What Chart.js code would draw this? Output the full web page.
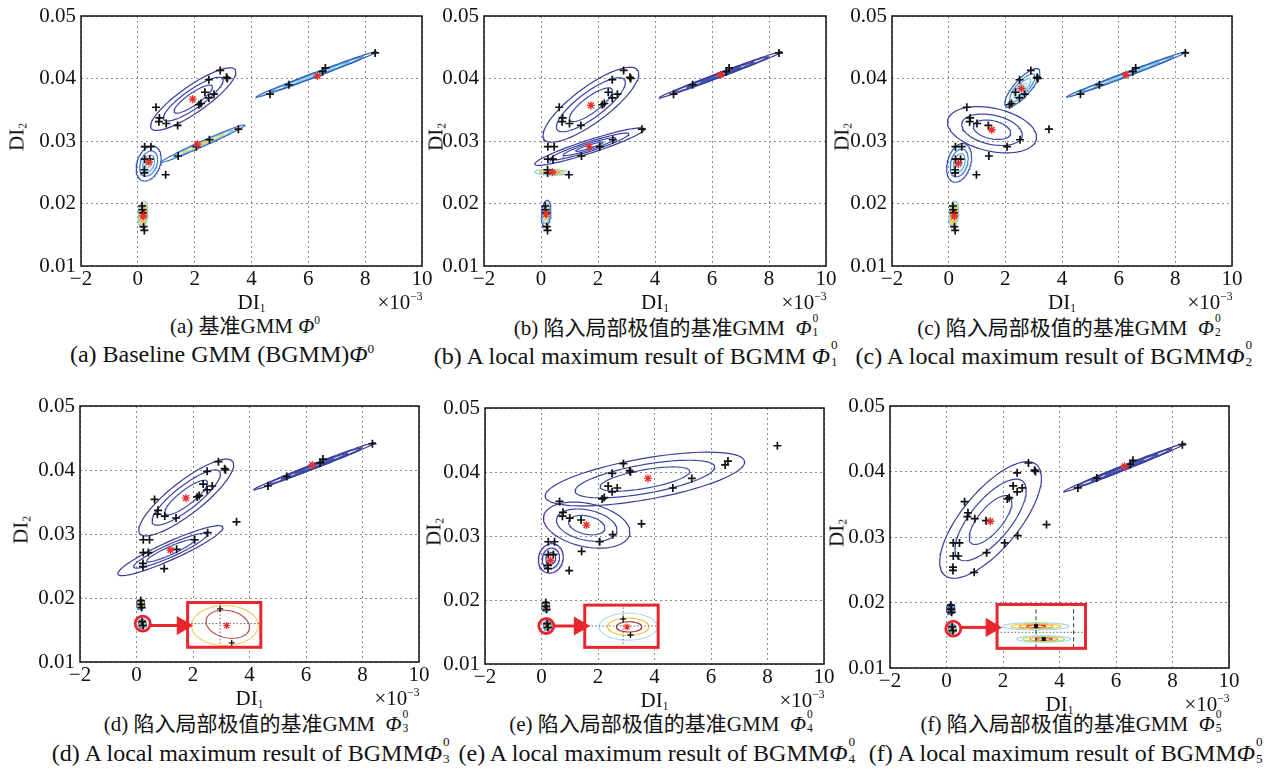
<!DOCTYPE html>
<html>
<head>
<meta charset="utf-8">
<script src="https://cdn.jsdelivr.net/npm/chart.js@4.4.1/dist/chart.umd.min.js"></script>
<style>
body { margin: 0; background: #fff; }
#wrap { position: relative; width: 1276px; height: 780px; overflow: hidden;
  font-family: "Liberation Serif", "Noto Sans CJK SC", serif; color: #111; }
canvas { position: absolute; }
.t { position: absolute; white-space: nowrap; line-height: 1; transform: translate(-50%, -50%); }
.yl { transform: translate(-50%, -50%) rotate(-90deg); }
.cn { font-size: 21px; }
.en { font-size: 24px; }
.ax { font-size: 21px; }
.ax sub { font-size: 0.55em; vertical-align: -0.3em; }
.ax sup, .sp { font-size: 0.55em; vertical-align: 0.7em; }
.ss { display: inline-block; position: relative; width: 0.42em; height: 1em; vertical-align: baseline; }
.ss .p { position: absolute; left: 1px; top: -0.12em; font-size: 0.55em; line-height: 1; }
.ss .b { position: absolute; left: 1px; bottom: -0.32em; font-size: 0.55em; line-height: 1; }
</style>
</head>
<body>
<div id="wrap">
  <div class="t cn" style="left:245px;top:326px">(a) 基准GMM <i>Φ</i><span class="sp">0</span></div>
  <div class="t en" style="left:222px;top:354px">(a) Baseline GMM (BGMM)<i>Φ</i><span class="sp">0</span></div>
  <div class="t cn" style="left:667px;top:326px">(b) 陷入局部极值的基准GMM &nbsp;<i>Φ</i><span class="ss"><span class="p">0</span><span class="b">1</span></span></div>
  <div class="t en" style="left:637px;top:354px">(b) A local maximum result of BGMM <i>Φ</i><span class="ss"><span class="p">0</span><span class="b">1</span></span></div>
  <div class="t cn" style="left:1070px;top:326px">(c) 陷入局部极值的基准GMM &nbsp;<i>Φ</i><span class="ss"><span class="p">0</span><span class="b">2</span></span></div>
  <div class="t en" style="left:1055px;top:354px">(c) A local maximum result of BGMM<i>Φ</i><span class="ss"><span class="p">0</span><span class="b">2</span></span></div>
  <div class="t cn" style="left:257px;top:722px">(d) 陷入局部极值的基准GMM &nbsp;<i>Φ</i><span class="ss"><span class="p">0</span><span class="b">3</span></span></div>
  <div class="t en" style="left:252px;top:751px">(d) A local maximum result of BGMM<i>Φ</i><span class="ss"><span class="p">0</span><span class="b">3</span></span></div>
  <div class="t cn" style="left:662px;top:722px">(e) 陷入局部极值的基准GMM &nbsp;<i>Φ</i><span class="ss"><span class="p">0</span><span class="b">4</span></span></div>
  <div class="t en" style="left:658px;top:751px">(e) A local maximum result of BGMM<i>Φ</i><span class="ss"><span class="p">0</span><span class="b">4</span></span></div>
  <div class="t cn" style="left:1072px;top:722px">(f) 陷入局部极值的基准GMM &nbsp;<i>Φ</i><span class="ss"><span class="p">0</span><span class="b">5</span></span></div>
  <div class="t en" style="left:1067px;top:751px">(f) A local maximum result of BGMM<i>Φ</i><span class="ss"><span class="p">0</span><span class="b">5</span></span></div>
</div>
<script>
// axes
var xTicks = [-2, 0, 2, 4, 6, 8, 10];
var yTicks = [0.01, 0.02, 0.03, 0.04, 0.05];

// sample points (DI1 in 1e-3, DI2)
var sampleDI1 = [0.64, 0.76, 0.74, 1.0, 1.4, 2.15, 2.22, 2.36, 2.5, 2.68, 2.5, 2.9, 3.12, 3.15,
  0.24, 0.46, 0.24, 0.42, 0.23, 0.23, 0.98, 1.42, 2.06, 2.52, 3.54,
  4.65, 5.32, 6.5, 6.6, 8.35,
  0.15, 0.16, 0.18, 0.20, 0.23];
var sampleDI2 = [0.0354, 0.0337, 0.0331, 0.0328, 0.0325, 0.0358, 0.0360, 0.0378, 0.0369, 0.0375, 0.0398, 0.0413, 0.0402, 0.0400,
  0.0291, 0.0291, 0.0271, 0.0271, 0.0254, 0.0249, 0.0246, 0.0276, 0.0291, 0.0302, 0.0319,
  0.0375, 0.0390, 0.0411, 0.0417, 0.0441,
  0.0196, 0.0190, 0.0185, 0.0163, 0.0157];

// estimated component means
var meansA = [[1.93, 0.0367], [6.32, 0.0404], [2.1, 0.0295], [0.39, 0.0266], [0.2, 0.0180]];
var meansB = [[1.75, 0.0357], [1.69, 0.0291], [6.3, 0.0406], [0.4, 0.0250], [0.18, 0.0183]];
var meansC = [[2.57, 0.0384], [1.52, 0.0318], [0.34, 0.0264], [6.25, 0.0406], [0.2, 0.0180]];
var meansD = [[1.75, 0.0356], [1.2, 0.0275], [6.22, 0.0408]];
var meansE = [[3.77, 0.0390], [1.59, 0.0317], [0.32, 0.0262]];
var meansF = [[1.55, 0.0324], [6.3, 0.0408]];

// components: [mean x, mean y, outer half-width x, outer half-width y, correlation]
var compsA = [[1.95, 0.0367, 1.5, 0.0050, 0.86], [6.28, 0.04065, 2.12, 0.00365, 0.994], [2.3, 0.0296, 1.47, 0.0030, 0.987], [0.38, 0.0264, 0.44, 0.0028, 0.3], [0.18, 0.0183, 0.17, 0.0021, 0.2]];
var compsB = [[1.75, 0.0358, 1.68, 0.0060, 0.82], [1.7, 0.0291, 1.92, 0.0030, 0.93], [6.3, 0.0406, 2.15, 0.0037, 0.994], [0.38, 0.0250, 0.6, 0.00045, -0.2], [0.18, 0.0184, 0.17, 0.0021, 0.2]];
var compsC = [[2.6, 0.0385, 0.62, 0.0031, 0.8], [1.53, 0.0318, 1.57, 0.0037, -0.32], [0.37, 0.0265, 0.44, 0.0031, 0.3], [6.28, 0.04065, 2.12, 0.00365, 0.994], [0.18, 0.0183, 0.17, 0.0021, 0.2]];
var compsD = [[1.76, 0.0357, 1.68, 0.0060, 0.85], [1.2, 0.0274, 1.86, 0.0039, 0.92], [6.3, 0.0406, 2.15, 0.0037, 0.994], [0.15, 0.0190, 0.15, 0.0008, 0], [0.2, 0.0160, 0.14, 0.0007, 0]];
var compsE = [[3.66, 0.0389, 3.53, 0.0042, 0.63], [1.6, 0.0317, 1.53, 0.0036, -0.3], [0.33, 0.0265, 0.44, 0.0023, 0.1], [0.15, 0.0190, 0.15, 0.0008, 0], [0.2, 0.0160, 0.14, 0.0007, 0]];
var compsF = [[1.56, 0.0326, 1.8, 0.0089, 0.72], [6.3, 0.0406, 2.15, 0.0037, 0.994], [0.15, 0.0190, 0.15, 0.0008, 0], [0.2, 0.0160, 0.14, 0.0007, 0]];

// contour levels (fraction of outer contour) for each component
var levelsA = [[1, 0.7, 0.45], [1, 0.78, 0.55, 0.32], [1, 0.72, 0.48, 0.25], [1, 0.72, 0.48, 0.25], [1, 0.78, 0.56, 0.36, 0.18]];
var levelsB = [[1, 0.72, 0.45], [1, 0.72, 0.48, 0.25], [1, 0.78, 0.55, 0.32], [1, 0.72, 0.48, 0.25], [1, 0.75, 0.5, 0.3]];
var levelsC = [[1, 0.72, 0.48, 0.25], [1, 0.68, 0.42], [1, 0.72, 0.48, 0.25], [1, 0.78, 0.55, 0.32], [1, 0.78, 0.56, 0.36, 0.18]];
var levelsD = [[1, 0.72, 0.45], [1, 0.7, 0.45], [1, 0.78, 0.55, 0.32], [1, 0.65, 0.35], [1, 0.65, 0.35]];
var levelsE = [[1, 0.7, 0.45], [1, 0.7, 0.42], [1, 0.7, 0.4], [1, 0.65, 0.35], [1, 0.65, 0.35]];
var levelsF = [[1, 0.7, 0.42], [1, 0.78, 0.55, 0.32], [1, 0.6, 0.3], [1, 0.65, 0.35]];

// zoomed insets: [x0, x1, y0, y1] and their contents
var insetD = [1.81, 4.40, 0.0123, 0.0193];
var insetE = [1.53, 4.13, 0.0126, 0.0192];
var insetF = [1.79, 4.92, 0.0130, 0.0197];
var insetCompsD = [[3.13, 0.0157, 1.18, 0.0031, 0], [3.23, 0.0159, 0.77, 0.0022, -0.2]];
var insetCompsE = [[3.07, 0.01583, 1.03, 0.0021, 0], [3.07, 0.01583, 0.73, 0.00135, 0], [3.1, 0.0158, 0.45, 0.0008, 0]];
var insetCompsF = [[3.17, 0.01637, 1.18, 0.00055, 0], [3.17, 0.01637, 0.88, 0.00042, 0], [3.17, 0.01637, 0.6, 0.0003, 0], [3.17, 0.01637, 0.34, 0.0002, 0],
  [3.44, 0.01442, 0.95, 0.0005, 0], [3.44, 0.01442, 0.74, 0.0004, 0], [3.44, 0.01442, 0.5, 0.0003, 0], [3.44, 0.01442, 0.3, 0.0002, 0]];
var insetPtsD = [[2.96, 0.0183], [3.37, 0.0130]];
var insetPtsE = [[2.89, 0.0170], [3.15, 0.01453]];
var insetPtsF = [[3.17, 0.01637], [3.44, 0.01442]];
var insetMeanD = [[3.19, 0.0157]];
var insetMeanE = [[3.03, 0.0158]];
var crossXD = [2.96], crossYD = [0.0160];
var crossXE = [2.89], crossYE = [0.01594];
var crossXF = [3.17, 4.5], crossYF = [0.01545];
var circleD = [0.22, 0.0160], arrowXD = [0.45, 1.62], arrowYD = 0.0157;
var circleE = [0.17, 0.01594], arrowXE = [0.42, 1.34], arrowYE = 0.01594;
var circleF = [0.24, 0.0160], arrowXF = [0.5, 1.58], arrowYF = 0.0162;

// styles
var PAL = {
  navy: ['#3a3c98', '#3b44a2', '#3d4eac', '#4058b4'],
  cool: ['#2e62b8', '#4f8fd0', '#78bfe6', '#a6dcf2'],
  warm: ['#3f6cc0', '#7cc4ea', '#dede5a', '#f0c840'],
  round: ['#3559b0', '#4a7ec8', '#6cb4e0', '#98d4ef'],
  hot: ['#86ccee', '#ecd040', '#f0a030', '#d83a20', '#7a1a1a'],
  blueHot: ['#3e66bc', '#80c4ea', '#e6d24a', '#ef9f32'],
  hot4: ['#86ccee', '#ecd040', '#f0a030', '#d83a20'],
  blob: ['#4f7fc4', '#e0c840', '#303030'],
  darkBlob: ['#2c4a9c', '#3d62b8', '#24347a']
};
var palA = ['navy', 'cool', 'warm', 'round', 'hot'];
var palB = ['navy', 'navy', 'navy', 'hot4', 'blueHot'];
var palC = ['cool', 'navy', 'round', 'cool', 'hot'];
var palD = ['navy', 'navy', 'navy', 'blob', 'blob'];
var palE = ['navy', 'navy', 'navy', 'blob', 'blob'];
var palF = ['navy', 'navy', 'darkBlob', 'blob'];
var insetColD = ['#f0cc60', '#b55050'];
var insetColE = ['#a8dcf0', '#f0c030', '#a02828'];
var insetColF = ['#9fd6ee', '#e8d040', '#f0a030', '#d83020', '#9fd6ee', '#c8dc50', '#f0a030', '#d83020'];

var boxes = [[81, 16, 422, 266], [484, 16, 826, 266], [892, 16, 1232, 266],
  [80, 406, 419, 662], [485, 408, 824, 664], [890, 406, 1229, 668]];
var YW = 52, XH = 34, PT = 14, PR = 14;

function contour(c, k) {
  var pts = [];
  var s = Math.sqrt(1 - c[4] * c[4]);
  for (var i = 0; i <= 96; i++) {
    var t = i / 96 * 2 * Math.PI;
    pts.push({x: c[0] + k * c[2] * Math.cos(t), y: c[1] + k * c[3] * (c[4] * Math.cos(t) + s * Math.sin(t))});
  }
  return pts;
}
function toPts(arr) { return arr.map(function (p) { return {x: p[0], y: p[1]}; }); }
function line(pts, color, w, dash) {
  return {data: pts, showLine: true, pointRadius: 0, borderColor: color, borderWidth: w || 1.2, borderDash: dash || [], fill: false, order: 3};
}

var framePlugin = {
  id: 'frame',
  beforeDatasetsDraw: function (chart, args, opts) {
    if (!opts.inset) return;
    var c = chart.ctx, sx = chart.scales.x, sy = chart.scales.y, r = opts.inset;
    c.save();
    c.fillStyle = '#fff';
    c.fillRect(sx.getPixelForValue(r[0]), sy.getPixelForValue(r[3]),
      sx.getPixelForValue(r[1]) - sx.getPixelForValue(r[0]), sy.getPixelForValue(r[2]) - sy.getPixelForValue(r[3]));
    c.restore();
  },
  afterDatasetsDraw: function (chart, args, opts) {
    var c = chart.ctx, a = chart.chartArea;
    c.save();
    if (opts.inset) {
      var sx = chart.scales.x, sy = chart.scales.y, r = opts.inset;
      c.strokeStyle = '#e8262e';
      c.lineWidth = 3;
      c.strokeRect(sx.getPixelForValue(r[0]), sy.getPixelForValue(r[3]),
        sx.getPixelForValue(r[1]) - sx.getPixelForValue(r[0]), sy.getPixelForValue(r[2]) - sy.getPixelForValue(r[3]));
    }
    c.strokeStyle = '#111';
    c.lineWidth = 1.5;
    c.strokeRect(a.left, a.top, a.right - a.left, a.bottom - a.top);
    c.restore();
  }
};

var panels = [
  {comps: compsA, levels: levelsA, pal: palA, means: meansA},
  {comps: compsB, levels: levelsB, pal: palB, means: meansB},
  {comps: compsC, levels: levelsC, pal: palC, means: meansC},
  {comps: compsD, levels: levelsD, pal: palD, means: meansD, inset: insetD, iComps: insetCompsD, iCol: insetColD, iPts: insetPtsD, iMean: insetMeanD, cx: crossXD, cy: crossYD, circle: circleD, ax: arrowXD, ay: arrowYD},
  {comps: compsE, levels: levelsE, pal: palE, means: meansE, inset: insetE, iComps: insetCompsE, iCol: insetColE, iPts: insetPtsE, iMean: insetMeanE, cx: crossXE, cy: crossYE, circle: circleE, ax: arrowXE, ay: arrowYE},
  {comps: compsF, levels: levelsF, pal: palF, means: meansF, inset: insetF, iComps: insetCompsF, iCol: insetColF, iPts: insetPtsF, iMean: [], cx: crossXF, cy: crossYF, circle: circleF, ax: arrowXF, ay: arrowYF, dashV: true}
];

Chart.defaults.font.family = "'Liberation Serif', 'Times New Roman', serif";
var tickFont = {family: "'Liberation Serif', 'Times New Roman', serif", size: 21};
var wrap = document.getElementById('wrap');

panels.forEach(function (p, i) {
  var b = boxes[i];
  var W = b[2] - b[0] + YW + PR, H = b[3] - b[1] + PT + XH;
  var cv = document.createElement('canvas');
  cv.width = W; cv.height = H;
  cv.style.left = (b[0] - YW) + 'px'; cv.style.top = (b[1] - PT) + 'px';
  cv.style.width = W + 'px'; cv.style.height = H + 'px';
  wrap.appendChild(cv);

  var ds = [];
  p.comps.forEach(function (c, j) {
    p.levels[j].forEach(function (k, l) {
      ds.push(line(contour(c, k), PAL[p.pal[j]][l], 1.2));
    });
  });
  if (p.inset) {
    var r = p.inset;
    p.cx.forEach(function (x) {
      ds.push(line([{x: x, y: r[2]}, {x: x, y: r[3]}], p.dashV ? '#333' : '#666', 1, p.dashV ? [4, 3] : [1.5, 2]));
    });
    p.cy.forEach(function (y) {
      ds.push(line([{x: r[0], y: y}, {x: r[1], y: y}], '#666', 1, [1.5, 2]));
    });
    p.iComps.forEach(function (c, j) {
      ds.push(line(contour(c, 1), p.iCol[j], 1.1));
    });
    ds.push({data: toPts(p.iPts), pointStyle: p.dashV ? 'rect' : 'cross', pointRadius: p.dashV ? 2 : 3, borderColor: '#111', backgroundColor: '#111', borderWidth: 1.3, order: 0});
    ds.push({data: toPts(p.iMean), pointStyle: 'star', pointRadius: 3.5, borderColor: '#e83030', borderWidth: 1.2, order: 0});
    ds.push({data: [{x: p.circle[0], y: p.circle[1]}], pointStyle: 'circle', pointRadius: 7.5, borderColor: '#e8262e', backgroundColor: 'rgba(0,0,0,0)', borderWidth: 2.8, order: 0});
    ds.push({data: [{x: p.ax[0], y: p.ay}, {x: p.ax[1], y: p.ay}], showLine: true, borderColor: '#e8262e', borderWidth: 3,
      pointRadius: [0, 8], pointStyle: 'triangle', rotation: 90, backgroundColor: '#e8262e', pointBorderColor: '#e8262e', order: 0});
  }
  ds.push({data: sampleDI1.map(function (x, k) { return {x: x, y: sampleDI2[k]}; }), pointStyle: 'cross', pointRadius: 4, borderColor: '#111', borderWidth: 1.7, order: 1});
  ds.push({data: toPts(p.means), pointStyle: 'star', pointRadius: 4, borderColor: '#e83030', borderWidth: 1.4, order: 0});

  new Chart(cv.getContext('2d'), {
    type: 'scatter',
    data: {datasets: ds},
    options: {
      responsive: false, animation: false, devicePixelRatio: 1,
      layout: {padding: {left: 0, top: PT, right: PR, bottom: 0}},
      plugins: {legend: {display: false}, tooltip: {enabled: false}, frame: {inset: p.inset || null}},
      scales: {
        x: {
          type: 'linear', min: -2, max: 10,
          afterBuildTicks: function (s) { s.ticks = xTicks.map(function (v) { return {value: v}; }); },
          afterFit: function (s) { s.height = XH; s.paddingLeft = 0; s.paddingRight = 0; },
          ticks: {font: tickFont, color: '#111', padding: 1, maxRotation: 0,
            callback: function (v) { return v < 0 ? '\u2212' + Math.abs(v) : String(v); }},
          grid: {color: '#8c8c8c', lineWidth: 1, drawTicks: false},
          border: {display: false, dash: [2, 3]}
        },
        y: {
          type: 'linear', min: 0.01, max: 0.05,
          afterBuildTicks: function (s) { s.ticks = yTicks.map(function (v) { return {value: v}; }); },
          afterFit: function (s) { s.width = YW; s.paddingTop = 0; s.paddingBottom = 0; },
          ticks: {font: tickFont, color: '#111', padding: 5,
            callback: function (v) { return v.toFixed(2); }},
          grid: {color: '#8c8c8c', lineWidth: 1, drawTicks: false},
          border: {display: false, dash: [2, 3]}
        }
      }
    },
    plugins: [framePlugin]
  });

  // axis titles
  var cxm = (b[0] + b[2]) / 2, cym = (b[1] + b[3]) / 2;
  var ylx = [18, 437, 843, 22, 435, 838][i];
  var d1 = document.createElement('div');
  d1.className = 't ax';
  d1.style.left = cxm + 'px'; d1.style.top = (b[3] + 37) + 'px';
  d1.innerHTML = 'DI<sub>1</sub>';
  wrap.appendChild(d1);
  var d2 = document.createElement('div');
  d2.className = 't ax yl';
  d2.style.left = ylx + 'px'; d2.style.top = (cym - 4) + 'px';
  d2.innerHTML = 'DI<sub>2</sub>';
  wrap.appendChild(d2);
  var d3 = document.createElement('div');
  d3.className = 't ax';
  d3.style.left = (b[2] - 22) + 'px'; d3.style.top = (b[3] + 36) + 'px';
  d3.innerHTML = '\u00d710<sup>\u22123</sup>';
  wrap.appendChild(d3);
});
</script>
</body>
</html>
